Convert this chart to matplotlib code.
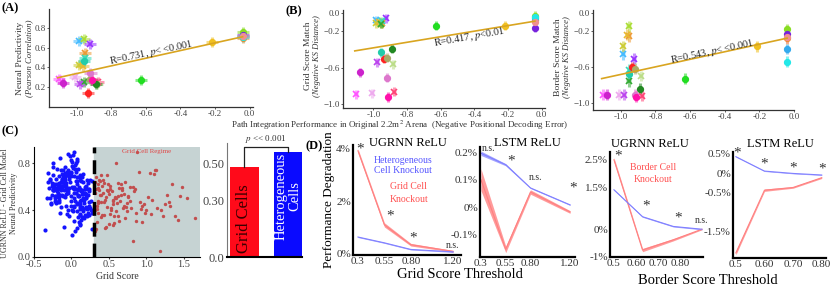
import matplotlib.pyplot as plt
import numpy as np

plt.rcParams['font.family'] = ['Liberation Serif', 'DejaVu Serif']
plt.rcParams['mathtext.fontset'] = 'stix'

# ---- models shown in (A), (B) and border panel ----
model_colors = ['#22dd22', '#f0c020', '#88dd22', '#7722dd', '#f08a30', '#33aaee', '#22e8e8', '#f09090',
                '#44bbff', '#aadd33', '#9933ff', '#ee9933', '#cccc33', '#e8b830', '#33ddbb', '#33aa33',
                '#ff55ff', '#eeaaee', '#bb44ee', '#ff4477', '#bbdd88',
                '#22ccaa', '#ff2222', '#228822', '#aaaa66', '#cc22cc', '#dd77cc', '#ff11aa']
model_markers = ['o'] * 8 + ['x'] * 13 + ['o'] * 7
path_perf = [-0.63, -0.215, -0.04, -0.04, -0.04, -0.04, -0.04, -0.04,
             -0.985, -0.955, -0.925, -0.95, -0.985, -0.965, -0.95, -0.955,
             -1.10, -1.01, -0.98, -0.877, -0.885,
             -0.955, -0.935, -0.89, -0.92, -1.08, -0.92, -0.91]
neural_pred = [0.27, 0.66, 0.76, 0.73, 0.70, 0.72, 0.71, 0.72,
               0.67, 0.69, 0.64, 0.55, 0.42, 0.41, 0.50, 0.25,
               0.28, 0.30, 0.23, 0.25, 0.23,
               0.46, 0.14, 0.23, 0.28, 0.24, 0.34, 0.27]
grid_match = [-0.14, -0.14, -0.03, -0.16, -0.08, -0.06, -0.05, -0.10,
              -0.08, -0.12, -0.06, -0.11, -0.11, -0.10, -0.09, -0.12,
              -0.89, -0.88, -0.54, -0.86, -0.56,
              -0.43, -0.50, -0.39, -0.49, -0.65, -0.71, -0.92]
border_match = [-0.73, -0.37, -0.18, -0.23, -0.28, -0.40, -0.54, -0.27,
                -0.46, -0.15, -0.51, -0.26, -0.37, -0.24, -0.63, -0.76,
                -0.91, -0.91, -0.91, -0.92, -0.70,
                -0.68, -0.60, -0.84, -0.62, -0.91, -0.91, -0.93]

# fitted lines (slope, intercept) and stats
fit_a = (0.387, 0.725)
fit_b = (0.304, -0.078)
fit_c = (0.42, -0.263)
fit_xrange = [-1.11, -0.04]

# ---- (C) scatter ----
blue_x = [-0.21, 0.05, -0.12, 0.18, -0.28, 0.02, 0.11, -0.05, -0.17, 0.24, -0.09, 0.14, -0.24, 0.07, -0.01, 0.21, -0.14, 0.09, -0.31, 0.16,
          -0.07, 0.27, -0.19, 0.01, 0.12, -0.26, 0.04, -0.11, 0.19, -0.03, 0.08, -0.22, 0.15, -0.15, 0.23, -0.06, 0.10, -0.29, 0.03, -0.18,
          0.13, -0.02, 0.20, -0.13, 0.06, -0.25, 0.17, -0.08, 0.00, -0.20, 0.25, -0.10, 0.12, -0.16, 0.04, -0.33, 0.09, -0.04, 0.22, -0.23,
          0.15, -0.12, 0.02, -0.27, 0.18, -0.06, 0.08, -0.19, 0.26, -0.01, 0.11, -0.14, -0.09, 0.05, -0.21, 0.14, -0.03, 0.19, -0.17, 0.07,
          -0.24, 0.10, -0.07, 0.22, -0.11, 0.01, -0.30, 0.16, -0.05, 0.12, -0.18, 0.03, 0.20, -0.13, 0.06, -0.22, 0.24, -0.08, 0.09, -0.15,
          0.17, -0.02, -0.26, 0.13, -0.10, 0.04, -0.19, 0.21, -0.04, 0.08, -0.16, 0.11, -0.23, 0.00, 0.15, -0.12, 0.27, -0.07, 0.02, -0.20,
          0.06, -0.14, 0.18, -0.01, -0.28, 0.10, -0.09, 0.23, -0.17, 0.05, -0.06, 0.14, -0.21, 0.01, 0.19, -0.11, 0.07, -0.25, 0.12, -0.03,
          -0.16, 0.09, -0.08, 0.25, -0.12, 0.03, -0.22, 0.16, -0.05, 0.11, -0.18, 0.20, -0.02, 0.06, -0.27, 0.13, -0.10, 0.01, 0.22, -0.14,
          0.04, -0.20, 0.17, -0.07, 0.10, -0.24, 0.00, 0.15, -0.13, 0.26, -0.04, 0.08, -0.19, 0.12, -0.09, 0.02, -0.31, 0.18, -0.06, 0.14,
          -0.11, 0.07, -0.23, 0.21, -0.01, 0.05, -0.15, 0.11, -0.26, 0.16, -0.08, 0.03, 0.24, -0.17, 0.09, -0.03, 0.13, -0.21, 0.06, -0.12,
          0.19, -0.05, 0.01, -0.18, 0.14, -0.10, 0.28, -0.22, 0.08, -0.02, 0.12, -0.14, 0.04, -0.35, 0.17, -0.07, 0.10, -0.25, 0.22, -0.09]
blue_y = [0.62, 0.48, 0.71, 0.55, 0.66, 0.39, 0.58, 0.74, 0.51, 0.44, 0.63, 0.57, 0.80, 0.46, 0.69, 0.35, 0.60, 0.53, 0.72, 0.41,
          0.54, 0.65, 0.47, 0.78, 0.36, 0.61, 0.50, 0.68, 0.43, 0.59, 0.84, 0.52, 0.64, 0.38, 0.56, 0.73, 0.45, 0.67, 0.31, 0.58,
          0.49, 0.70, 0.42, 0.61, 0.55, 0.77, 0.33, 0.63, 0.52, 0.46, 0.66, 0.57, 0.28, 0.69, 0.60, 0.50, 0.75, 0.40, 0.58, 0.62,
          0.71, 0.53, 0.87, 0.45, 0.60, 0.37, 0.65, 0.56, 0.48, 0.72, 0.43, 0.64, 0.51, 0.79, 0.58, 0.34, 0.67, 0.54, 0.47, 0.25,
          0.57, 0.68, 0.44, 0.63, 0.52, 0.81, 0.59, 0.39, 0.70, 0.48, 0.61, 0.55, 0.42, 0.66, 0.73, 0.50, 0.36, 0.62, 0.57, 0.85,
          0.46, 0.64, 0.53, 0.32, 0.69, 0.58, 0.75, 0.41, 0.55, 0.62, 0.49, 0.70, 0.60, 0.44, 0.54, 0.67, 0.38, 0.59, 0.76, 0.51,
          0.65, 0.43, 0.58, 0.83, 0.50, 0.60, 0.72, 0.47, 0.63, 0.22, 0.56, 0.68, 0.52, 0.40, 0.61, 0.74, 0.45, 0.57, 0.66, 0.35,
          0.59, 0.52, 0.77, 0.42, 0.64, 0.69, 0.48, 0.55, 0.88, 0.37, 0.62, 0.50, 0.71, 0.58, 0.46, 0.65, 0.26, 0.60, 0.53, 0.74,
          0.43, 0.67, 0.55, 0.61, 0.30, 0.58, 0.73, 0.49, 0.64, 0.40, 0.56, 0.82, 0.52, 0.45, 0.68, 0.59, 0.64, 0.36, 0.70, 0.54,
          0.61, 0.39, 0.57, 0.66, 0.48, 0.75, 0.53, 0.27, 0.63, 0.50, 0.71, 0.44, 0.58, 0.62, 0.34, 0.69, 0.56, 0.47, 0.80, 0.60,
          0.51, 0.72, 0.19, 0.55, 0.43, 0.64, 0.24, 0.59, 0.68, 0.86, 0.41, 0.57, 0.90, 0.23, 0.49, 0.63, 0.52, 0.70, 0.38, 0.66]
red_x = [0.32, 0.41, 0.55, 0.36, 0.62, 0.47, 0.78, 0.34, 0.51, 0.69, 0.38, 0.88, 0.44, 0.58, 0.33, 0.95, 0.49, 0.72, 0.40, 1.05,
         0.35, 0.53, 0.66, 0.31, 0.83, 0.45, 0.60, 1.12, 0.37, 0.74, 0.50, 0.92, 0.42, 0.57, 1.28, 0.34, 0.64, 0.80, 0.46, 1.00,
         0.39, 0.70, 0.52, 1.18, 0.33, 0.61, 0.86, 0.43, 1.35, 0.56, 0.76, 0.36, 0.98, 0.48, 1.42, 0.67, 0.31, 0.54, 1.08, 0.40,
         0.82, 0.59, 1.25, 0.35, 0.73, 0.46, 1.55, 0.63, 0.38, 0.90, 0.52, 1.15, 0.44, 0.68, 1.32, 0.32, 0.57, 1.02, 0.75, 1.65,
         0.41, 0.65, 0.85, 0.37, 1.22, 0.50, 0.60, 1.45, 0.34, 0.79, 0.55, 0.94, 0.47, 1.10, 0.71, 0.39, 1.30, 0.62, 0.87, 0.45,
         0.58, 1.20, 0.33, 0.68, 0.97, 0.42, 1.38, 0.53, 0.76, 1.13, 0.36, 0.64, 0.84, 1.48, 0.49, 0.30, 0.72, 1.06, 0.56, 0.93]
red_y = [0.55, 0.61, 0.45, 0.38, 0.52, 0.70, 0.48, 0.30, 0.58, 0.42, 0.65, 0.90, 0.36, 0.50, 0.24, 0.44, 0.56, 0.33, 0.47, 0.72,
         0.62, 0.40, 0.53, 0.22, 0.60, 0.49, 0.80, 0.74, 0.57, 0.39, 0.28, 0.47, 0.66, 0.35, 0.53, 0.44, 0.59, 0.42, 0.51, 0.40,
         0.70, 0.54, 0.37, 0.05, 0.58, 0.46, 0.31, 0.63, 0.62, 0.27, 0.51, 0.48, 0.38, 0.43, 0.32, 0.62, 0.64, 0.56, 0.49, 0.34,
         0.14, 0.50, 0.45, 0.59, 0.43, 0.26, 0.50, 0.35, 0.53, 0.73, 0.61, 0.42, 0.47, 0.57, 0.44, 0.40, 0.29, 0.51, 0.46, 0.33,
         0.36, 0.48, 0.58, 0.66, 0.35, 0.54, 0.39, 0.52, 0.41, 0.60, 0.49, 0.30, 0.57, 0.71, 0.44, 0.53, 0.47, 0.63, 0.38, 0.25,
         0.51, 0.40, 0.68, 0.59, 0.45, 0.55, 0.35, 0.42, 0.52, 0.74, 0.46, 0.31, 0.56, 0.60, 0.62, 0.44, 0.64, 0.37, 0.48, 0.41]
grid_thresh_c = 0.3

bar_names = ['Grid Cells', 'Heterogeneous\nCells']
bar_vals = [0.484, 0.564]

# ---- (D) knockouts ----
grid_thr = [0.3, 0.55, 0.8, 1.2]
ug_grid_ko = [3.9, 1.1, 0.35, 0.1]
ug_grid_ko_err = [0.08, 0.08, 0.05, 0.03]
ug_het_ko = [0.64, 0.42, 0.17, 0.08]
ug_het_ko_err = [0.02, 0.02, 0.02, 0.02]
ug_grid_sig = ['*', '*', '*', 'n.s.']

ls_grid_ko = [0.10, -0.155, 0.055, -0.018]
ls_grid_ko_err = [0.04, 0.012, 0.008, 0.005]
ls_het_ko = [0.197, 0.155, 0.07, 0.008]
ls_het_ko_err = [0.008, 0.004, 0.002, 0.002]
ls_grid_sig = ['n.s.', '*', 'n.s.', '*']

ug_border_thr = [0.5, 0.63, 0.77, 0.9]
ug_border_ko = [2.5, -0.75, -0.38, 0.0]
ug_border_ko_err = [0.08, 0.06, 0.04, 0.02]
ug_hetb_ko = [1.42, 0.45, 0.1, 0.0]
ug_hetb_ko_err = [0.02, 0.02, 0.02, 0.02]
ug_border_sig = ['*', '*', '*', 'n.s.']

ls_border_thr = [0.5, 0.6, 0.7, 0.8]
ls_border_ko = [-2.05, -0.44, -0.37, -0.12]
ls_border_ko_err = [0.05, 0.03, 0.02, 0.02]
ls_hetb_ko = [0.42, 0.05, -0.01, -0.05]
ls_hetb_ko_err = [0.01, 0.01, 0.01, 0.01]
ls_border_sig = ['*', '*', '*', '*']

W, H = 831, 292
fig = plt.figure(figsize=(W / 100, H / 100), dpi=100)


def box(x0, y0, x1, y1):
    # pixel box (left, top, right, bottom) -> figure axes
    return fig.add_axes([x0 / W, 1 - y1 / H, (x1 - x0) / W, (y1 - y0) / H])


def style_top(ax):
    for s in ['top', 'right']:
        ax.spines[s].set_visible(False)
    for s in ['left', 'bottom']:
        ax.spines[s].set_color('#333333')
        ax.spines[s].set_linewidth(0.9)
    ax.tick_params(labelsize=6.5, colors='#444444', length=1.5, width=0.6, pad=1)


def model_panel(ax, yvals, fit, xerr, yerr, text, tx, ty, rot):
    for i in range(len(path_perf)):
        c = model_colors[i]
        ax.errorbar(path_perf[i], yvals[i], xerr=xerr, yerr=yerr, fmt='none',
                    ecolor=c, elinewidth=2.2, alpha=0.55, zorder=2)
        if model_markers[i] == 'o':
            ax.plot(path_perf[i], yvals[i], 'o', color=c, ms=4.2, zorder=3)
        else:
            ax.plot(path_perf[i], yvals[i], 'x', color=c, ms=4.5, mew=1.2, zorder=3)
    xs = np.array(fit_xrange)
    ax.plot(xs, fit[0] * xs + fit[1], color='#d9a520', lw=1.2, zorder=4)
    ax.text(tx, ty, text, fontsize=7.5, rotation=rot, ha='center', va='center',
            color='#222222', zorder=5)
    ax.set_xticks([-1.0, -0.8, -0.6, -0.4, -0.2, 0.0])
    ax.set_xticklabels(['-1.0', '-0.8', '-0.6', '-0.4', '-0.2', '0.0'])
    style_top(ax)


def two_line_ylabel(ax, first, second, x1, x2, y):
    ax.text(x1, y, first, transform=ax.transAxes, rotation=90,
            ha='center', va='center', fontsize=6.8, color='#333333')
    ax.text(x2, y, second, transform=ax.transAxes, rotation=90,
            ha='center', va='center', fontsize=6.2, style='italic', color='#333333')


# (A)
axA = box(49, 9, 253, 107)
model_panel(axA, neural_pred, fit_a, 0.035, 0.05, r'R=0.731, $p$< <0.001', -0.57, 0.55, 12)
axA.set_xlim(-1.16, 0.02)
axA.set_ylim(0.0, 0.99)
axA.set_yticks([0.2, 0.4, 0.6, 0.8])
two_line_ylabel(axA, 'Neural Predictivity', '(Pearson Correlation)', -0.14, -0.095, 0.5)

# (B)
axB = box(343, 10, 545, 108)
model_panel(axB, grid_match, fit_b, 0.012, 0.05, r'R=0.417, $p$<0.01', -0.43, -0.27, 10)
axB.set_xlim(-1.18, 0.02)
axB.set_ylim(-1.04, 0.032)
axB.set_yticks([0.0, -0.2, -0.6, -1.0])
two_line_ylabel(axB, 'Grid Score Match', '(Negative KS Distance)', -0.172, -0.127, 0.53)

# border panel
axBb = box(593, 10, 794, 110)
model_panel(axBb, border_match, fit_c, 0.012, 0.06, r'R=0.543, $p$< <0.001', -0.47, -0.43, 12)
axBb.set_xlim(-1.16, 0.0)
axBb.set_ylim(-1.078, 0.033)
axBb.set_yticks([0.0, -0.2, -0.6, -1.0])
two_line_ylabel(axBb, 'Border Score Match', '(Negative KS Distance)', -0.172, -0.127, 0.53)

fig.text(400 / W, 1 - 125 / H, r'Path Integration Performance in Original 2.2m$^2$ Arena  (Negative Positional Decoding Error)',
         ha='center', va='center', fontsize=6.5, color='#333333')

# (C) scatter
axC = box(34, 147, 200, 257)
axC.axvspan(grid_thresh_c, 1.70, color='#c6d3d3', zorder=0)
axC.scatter(blue_x, blue_y, s=9, color='#1414ff', lw=0, zorder=2)
axC.scatter(red_x, red_y, s=6, color='#c24e4e', lw=0, zorder=2)
axC.axvline(grid_thresh_c, color='black', lw=2.5, ls=(0, (4, 2)), zorder=3)
axC.text(1.0, 0.90, 'Grid Cell Regime', color='#e04848', fontsize=5, ha='center', va='center')
axC.set_xlim(-0.46, 1.72)
axC.set_ylim(0, 0.94)
axC.set_xticks([-0.5, 0.0, 0.5, 1.0, 1.5])
axC.set_xticklabels(['-0.5', '0.0', '0.5', '1.0', '1.5'])
axC.set_yticks([0.0, 0.4, 0.8])
for s in ['top', 'right']:
    axC.spines[s].set_visible(False)
axC.tick_params(labelsize=7.5, colors='#444444', length=1.5, pad=1)
axC.set_xlabel('Grid Score', fontsize=7, color='#333333', labelpad=2)
axC.text(-0.175, 0.49, 'UGRNN ReLU - Grid Cell Model', transform=axC.transAxes, rotation=90,
         ha='center', va='center', fontsize=5.8, color='#333333')
axC.text(-0.12, 0.49, 'Neural Predictivity', transform=axC.transAxes, rotation=90,
         ha='center', va='center', fontsize=5.8, color='#333333')

# (C) bars
axCb = box(227, 143, 302, 257)
bars = axCb.bar([0, 1], bar_vals, width=0.66, color=['#ff0a1a', '#0a0aff'])
axCb.text(0, 0.02, bar_names[0], rotation=90, ha='center', va='bottom', fontsize=12, color='#3a0000')
axCb.text(1, 0.56, bar_names[1], rotation=90, ha='center', va='top', fontsize=10.5, color='white',
          linespacing=1.0)
axCb.plot([0, 0, 1, 1], [bar_vals[0], 0.59, 0.59, bar_vals[1]], color='#222222', lw=0.9)
axCb.text(0.5, 0.598, r'$p$ << 0.001', ha='center', va='bottom', fontsize=6.5, color='#333333')
axCb.set_xlim(-0.4, 1.32)
axCb.set_ylim(0, 0.61)
axCb.set_xticks([])
axCb.set_yticks([0.0, 0.30, 0.50])
axCb.set_yticklabels(['0.0', '0.30', '0.50'])
for s in ['top', 'right']:
    axCb.spines[s].set_visible(False)
axCb.spines['left'].set_color('#777777')
axCb.spines['bottom'].set_linewidth(1.5)
axCb.tick_params(labelsize=9, colors='#444444', length=0, pad=2)


def ko_panel(ax, thr, ko, ko_err, het, het_err, sig, offsets):
    thr = np.array(thr)
    ko, ko_err = np.array(ko), np.array(ko_err)
    het, het_err = np.array(het), np.array(het_err)
    ax.fill_between(thr, ko - ko_err, ko + ko_err, color='#ff4a4a', alpha=0.55, lw=0)
    ax.plot(thr, ko, color='#ff8080', lw=0.8)
    ax.fill_between(thr, het - het_err, het + het_err, color='#5a5aff', alpha=0.55, lw=0)
    ax.plot(thr, het, color='#8080ff', lw=0.8)
    for i in range(len(thr)):
        dx, dy = offsets[i]
        top = max(ko[i], het[i])
        if sig[i] == '*':
            ax.text(thr[i] + dx, top + dy, '*', fontsize=11, ha='center', va='center', color='#333333')
        else:
            ax.text(thr[i] + dx, top + dy, 'n.s.', fontsize=7, ha='center', va='center', color='#333333')
    for s in ['top', 'right']:
        ax.spines[s].set_visible(False)
    for s in ['left', 'bottom']:
        ax.spines[s].set_linewidth(1.6)
    ax.tick_params(labelsize=8, colors='#333333', length=0, pad=1.5)


# (D1)
axD1 = box(353, 145, 461, 255)
ko_panel(axD1, grid_thr, ug_grid_ko, ug_grid_ko_err, ug_het_ko, ug_het_ko_err, ug_grid_sig,
         [(0.02, 0.05), (0.05, 0.35), (0.02, 0.25), (0.0, 0.22)])
axD1.set_xlim(0.253, 1.275)
axD1.set_ylim(-0.04, 4.12)
axD1.set_xticks(grid_thr)
axD1.set_xticklabels(['0.3', '0.55', '0.80', '1.20'])
axD1.set_yticks([0, 2, 4])
axD1.set_yticklabels(['0%', '2%', '4%'])
axD1.text(0.73, 3.35, 'Heterogeneous\nCell Knockout', color='#5555ff', fontsize=7, ha='center', va='center')
axD1.text(0.78, 2.3, 'Grid Cell\nKnockout', color='#ff5050', fontsize=7, ha='center', va='center',
          linespacing=1.5)
axD1.set_ylabel('Performance Degradation', fontsize=9.5, labelpad=1)

# (D2)
axD2 = box(480, 147, 575, 257)
ko_panel(axD2, grid_thr, ls_grid_ko, ls_grid_ko_err, ls_het_ko, ls_het_ko_err, ls_grid_sig,
         [(0.08, 0.018), (0.05, 0.015), (0.05, 0.04), (0.03, 0.06)])
axD2.set_xlim(0.29, 1.25)
axD2.set_ylim(-0.183, 0.22)
axD2.set_xticks(grid_thr)
axD2.set_xticklabels(['0.3', '0.55', '0.80', '1.20'])
axD2.set_yticks([-0.1, 0.0, 0.1, 0.2])
axD2.set_yticklabels(['-0.1%', '0%', '0.1%', '0.2%'])

fig.text(460 / W, 1 - 275 / H, 'Grid Score Threshold', fontsize=10.5, ha='center', va='center')

# (D3)
axD3 = box(610, 152, 703, 257)
ko_panel(axD3, ug_border_thr, ug_border_ko, ug_border_ko_err, ug_hetb_ko, ug_hetb_ko_err, ug_border_sig,
         [(0.02, 0.15), (0.015, 0.4), (0.02, 0.3), (0.0, 0.3)])
axD3.set_xlim(0.482, 0.905)
axD3.set_ylim(-1.0, 2.78)
axD3.set_xticks([0.5, 0.6, 0.7, 0.8])
axD3.set_xticklabels(['0.5', '0.60', '0.70', '0.80'])
axD3.set_yticks([-1, 0, 1.5, 2.5])
axD3.set_yticklabels(['-1%', '0%', '1.5%', '2.5%'])
axD3.text(0.68, 2.0, 'Border Cell\nKnockout', color='#ff5050', fontsize=7, ha='center', va='center',
          linespacing=1.5)

# (D4)
axD4 = box(733, 152, 826, 258)
ko_panel(axD4, ls_border_thr, ls_border_ko, ls_border_ko_err, ls_hetb_ko, ls_hetb_ko_err, ls_border_sig,
         [(0.005, 0.1), (0.0, 0.18), (0.0, 0.15), (0.0, 0.15)])
axD4.set_xlim(0.49, 0.815)
axD4.set_ylim(-2.18, 0.54)
axD4.set_xticks(ls_border_thr)
axD4.set_xticklabels(['0.5', '0.60', '0.70', '0.80'])
axD4.set_yticks([-1.5, -0.5, 0, 0.5])
axD4.set_yticklabels(['-1.5%', '-0.5%', '0%', '0.5%'])

fig.text(708 / W, 1 - 280 / H, 'Border Score Threshold', fontsize=10.5, ha='center', va='center')

# D sub-panel titles
for ttl, px, py in [('UGRNN ReLU', 408, 143), ('LSTM ReLU', 527, 143),
                    ('UGRNN ReLU', 650, 144), ('LSTM ReLU', 780, 144)]:
    fig.text(px / W, 1 - py / H, ttl, fontsize=9, ha='center', va='center')

# panel letters
for lbl, px, py in [('(A)', 2, 8), ('(B)', 285, 11), ('(C)', 2, 131), ('(D)', 305, 146)]:
    fig.text(px / W, 1 - py / H, lbl, fontsize=9, fontweight='bold', ha='left', va='center')

fig.savefig('out.png', dpi=100)
